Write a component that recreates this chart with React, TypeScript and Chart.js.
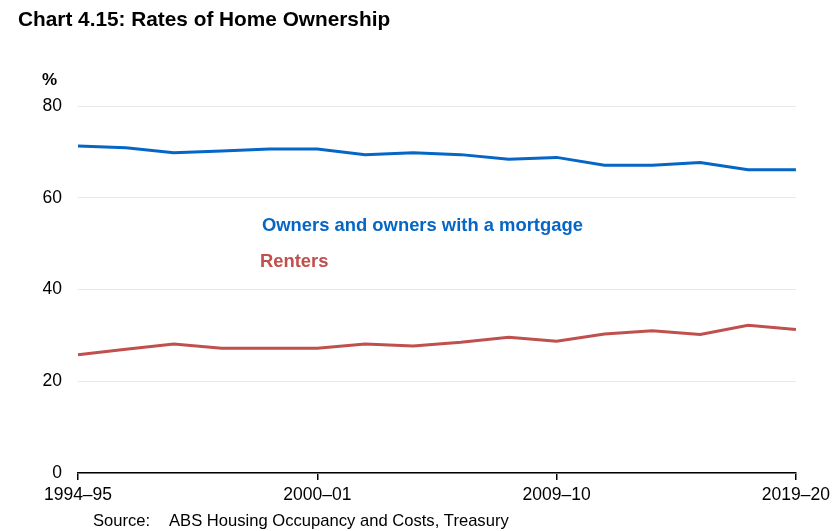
import React, { useEffect, useRef } from "react";
import { Chart, registerables } from "chart.js";

Chart.register(...registerables);

const categories = [
  "1994–95", "1995–96", "1996–97", "1997–98", "1999–00", "2000–01",
  "2002–03", "2003–04", "2005–06", "2007–08", "2009–10", "2011–12",
  "2013–14", "2015–16", "2017–18", "2019–20",
];
const labelledTicks = ["1994–95", "2000–01", "2009–10", "2019–20"];
const owners = [71.3, 70.9, 69.8, 70.2, 70.6, 70.6, 69.4, 69.8, 69.4, 68.4, 68.8, 67.1, 67.1, 67.7, 66.1, 66.1];
const renters = [25.8, 27.0, 28.1, 27.2, 27.2, 27.2, 28.1, 27.7, 28.5, 29.6, 28.7, 30.3, 31.0, 30.2, 32.2, 31.3];
const yTicks = [0, 20, 40, 60, 80];

const title = "Chart 4.15: Rates of Home Ownership";
const ownersLabel = "Owners and owners with a mortgage";
const rentersLabel = "Renters";
const unitLabel = "%";
const sourceLabel = "Source:";
const sourceText = "ABS Housing Occupancy and Costs, Treasury";

const BLUE = "#0566c6";
const RED = "#c0504d";
const FONT = "'Liberation Sans', Arial, sans-serif";

const textPlugin = {
  id: "texts",
  afterDraw(chart: any) {
    const ctx = chart.ctx;
    ctx.save();
    ctx.textBaseline = "middle";
    ctx.textAlign = "left";
    ctx.fillStyle = "#000";
    ctx.font = `bold 20.8px ${FONT}`;
    ctx.fillText(title, 18, 20);
    ctx.font = `bold 17px ${FONT}`;
    ctx.fillText(unitLabel, 42, 80);
    ctx.font = `bold 18.4px ${FONT}`;
    ctx.fillStyle = BLUE;
    ctx.fillText(ownersLabel, 262, 226);
    ctx.fillStyle = RED;
    ctx.fillText(rentersLabel, 260, 262);
    ctx.fillStyle = "#000";
    ctx.font = `16.6px ${FONT}`;
    ctx.fillText(sourceLabel, 93, 521);
    ctx.fillText(sourceText, 169, 521);
    ctx.restore();
  },
};

export default function App() {
  const ref = useRef<HTMLCanvasElement>(null);
  useEffect(() => {
    if (!ref.current) return;
    const chart = new Chart(ref.current, {
      type: "line",
      data: {
        labels: categories,
        datasets: [
          {
            label: ownersLabel,
            data: owners,
            borderColor: BLUE,
            backgroundColor: BLUE,
            borderWidth: 3,
            pointRadius: 0,
            tension: 0,
          },
          {
            label: rentersLabel,
            data: renters,
            borderColor: RED,
            backgroundColor: RED,
            borderWidth: 3,
            pointRadius: 0,
            tension: 0,
          },
        ],
      },
      options: {
        responsive: false,
        animation: false,
        layout: { padding: { top: 106, right: 39, left: 0, bottom: 0 } },
        plugins: { legend: { display: false }, tooltip: { enabled: false }, title: { display: false } },
        scales: {
          x: {
            type: "category",
            offset: false,
            border: { display: true, color: "#000", width: 1.5 },
            grid: {
              display: true,
              drawOnChartArea: false,
              drawTicks: true,
              tickLength: 7,
              color: (c: any) =>
                labelledTicks.includes(categories[c.index]) ? "#000" : "rgba(0,0,0,0)",
              lineWidth: 1.5,
            },
            ticks: {
              autoSkip: false,
              maxRotation: 0,
              padding: 5,
              color: "#000",
              font: { family: FONT, size: 17.5 },
              callback: (_v: any, i: number) =>
                labelledTicks.includes(categories[i]) ? categories[i] : "",
            },
            afterFit: (s: any) => {
              s.height = 58;
            },
          },
          y: {
            min: 0,
            max: 80,
            border: { display: false },
            grid: { color: "#e8e8e8", lineWidth: 1, drawTicks: false },
            afterBuildTicks: (s: any) => {
              s.ticks = yTicks.map((v) => ({ value: v }));
            },
            ticks: {
              padding: 16,
              color: "#000",
              font: { family: FONT, size: 17.5 },
            },
            afterFit: (s: any) => {
              s.width = 78;
            },
          },
        },
      },
      plugins: [textPlugin],
    } as any);
    return () => chart.destroy();
  }, []);
  return (
    <div style={{ position: "absolute", left: 0, top: 0, width: 835, height: 531, background: "#fff" }}>
      <canvas ref={ref} width={835} height={531} style={{ display: "block" }} />
    </div>
  );
}
